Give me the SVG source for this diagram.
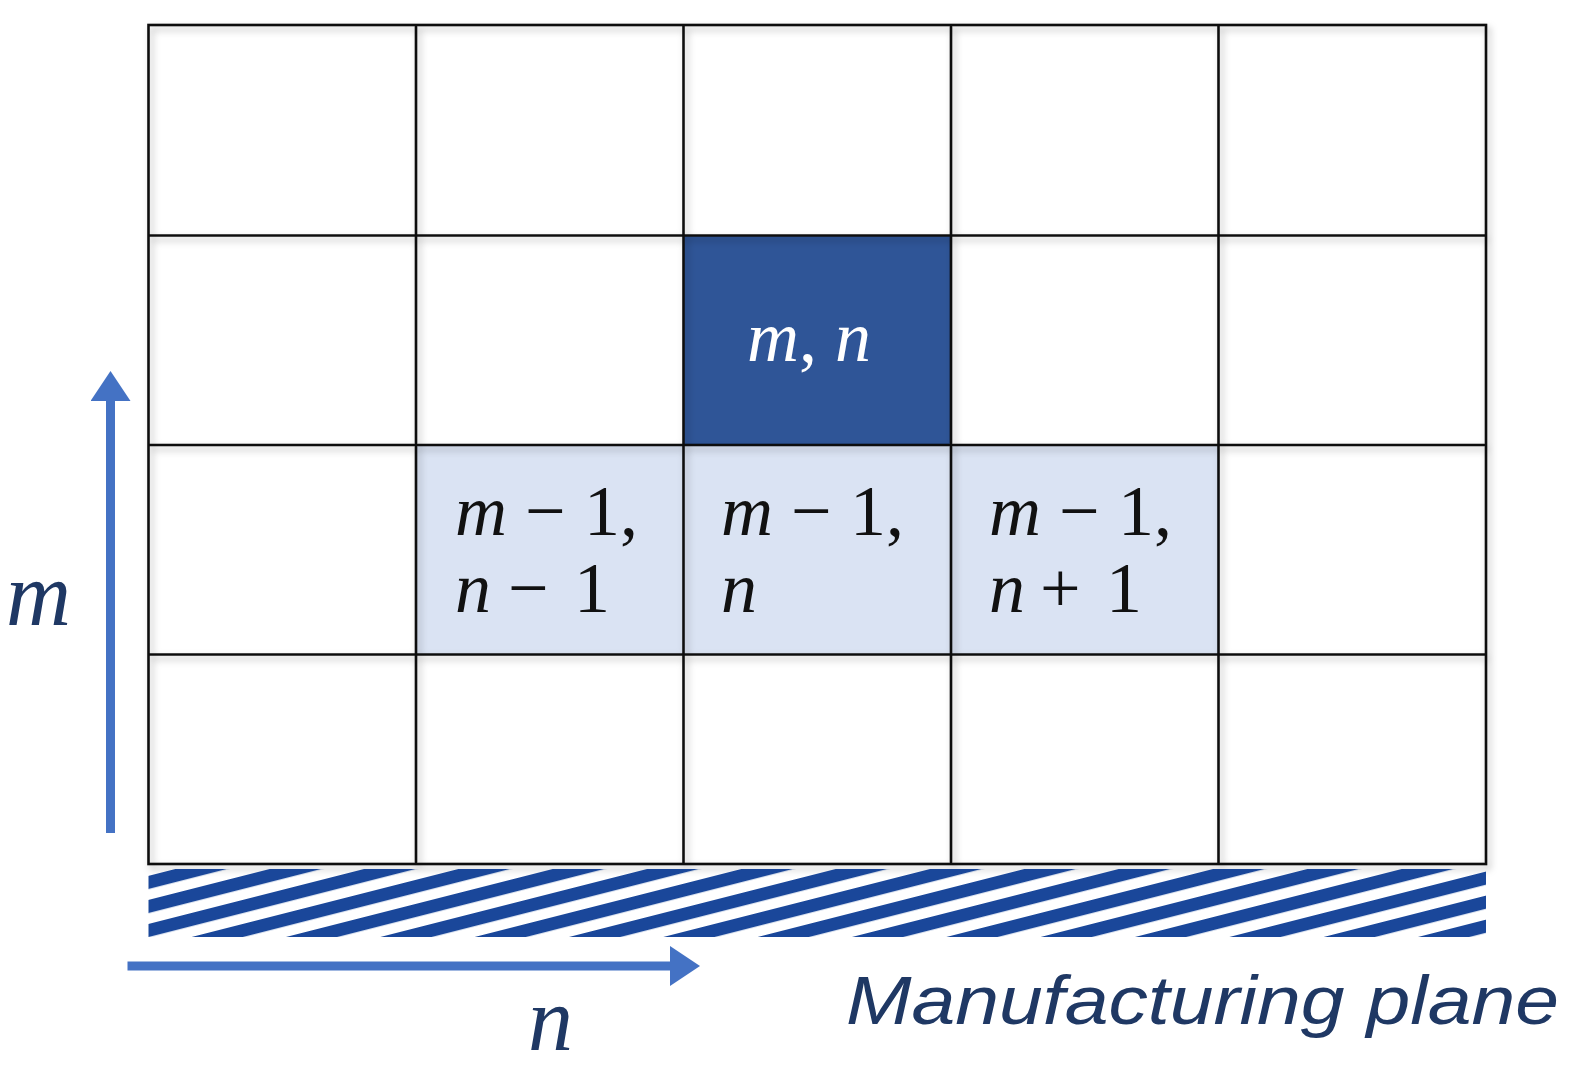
<svg xmlns="http://www.w3.org/2000/svg" width="1574" height="1067" viewBox="0 0 1574 1067">
<style>
.grid{fill:none;stroke:#111;stroke-width:2.6}
.math{font-family:"Liberation Serif","DejaVu Serif",serif;font-size:72px;fill:#111}
.it{font-style:italic}
.axis{font-family:"Liberation Serif","DejaVu Serif",serif;font-style:italic;font-size:90px;fill:#1F3864}
.arrow{stroke:#4472C4;stroke-width:9;fill:none}
</style>
<defs>
<pattern id="hatch" patternUnits="userSpaceOnUse" width="20" height="23.3" patternTransform="rotate(-14.3)">
<rect x="0" y="0" width="20" height="12.8" fill="#1A479A"/>
</pattern>
<marker id="head" markerUnits="userSpaceOnUse" viewBox="0 0 30 40" refX="0" refY="20" markerWidth="30" markerHeight="40" orient="auto">
<path d="M0,0 L30,20 L0,40 Z" fill="#4472C4"/>
</marker>
<filter id="shadow" x="-5%" y="-5%" width="110%" height="110%">
<feDropShadow dx="3" dy="4" stdDeviation="3.5" flood-color="#000" flood-opacity="0.28"/>
</filter>
</defs>
<g id="cells">
<rect id="cell-mn" x="683.5" y="235.5" width="267.5" height="209.5" fill="#2F5597"/>
<rect id="cell-m1n1" x="416" y="445" width="267.5" height="209.5" fill="#DAE3F3"/>
<rect id="cell-m1n" x="683.5" y="445" width="267.5" height="209.5" fill="#DAE3F3"/>
<rect id="cell-m1np1" x="951" y="445" width="267.5" height="209.5" fill="#DAE3F3"/>
</g>
<g id="grid" class="grid" filter="url(#shadow)">
<rect x="148.5" y="25" width="1337.5" height="839"/>
<line x1="416" y1="25" x2="416" y2="864"/>
<line x1="683.5" y1="25" x2="683.5" y2="864"/>
<line x1="951" y1="25" x2="951" y2="864"/>
<line x1="1218.5" y1="25" x2="1218.5" y2="864"/>
<line x1="148.5" y1="235.5" x2="1486" y2="235.5"/>
<line x1="148.5" y1="445" x2="1486" y2="445"/>
<line x1="148.5" y1="654.5" x2="1486" y2="654.5"/>
</g>
<g id="labels">
<text class="math" x="809" y="361" text-anchor="middle" style="fill:#fff"><tspan class="it">m</tspan>, <tspan class="it">n</tspan></text>
<text class="math" y="535"><tspan class="it" x="455">m</tspan><tspan x="525">−</tspan><tspan x="584">1,</tspan></text>
<text class="math" y="612"><tspan class="it" x="455">n</tspan><tspan x="508">−</tspan><tspan x="574">1</tspan></text>
<text class="math" y="535"><tspan class="it" x="721">m</tspan><tspan x="791">−</tspan><tspan x="850">1,</tspan></text>
<text class="math" y="612"><tspan class="it" x="721">n</tspan></text>
<text class="math" y="535"><tspan class="it" x="989">m</tspan><tspan x="1059">−</tspan><tspan x="1118">1,</tspan></text>
<text class="math" y="612"><tspan class="it" x="989">n</tspan><tspan x="1040">+</tspan><tspan x="1106">1</tspan></text>
</g>
<g id="manufacturing-plane">
<rect x="148.5" y="869" width="1337.5" height="68" fill="url(#hatch)"/>
<text x="846" y="1024" textLength="713" lengthAdjust="spacingAndGlyphs" style="font-family:'Liberation Sans','DejaVu Sans',sans-serif;font-style:italic;font-size:68px;fill:#1F3864">Manufacturing plane</text>
</g>
<g id="connectors">
<line class="arrow" x1="127.5" y1="966" x2="670" y2="966" marker-end="url(#head)"/>
<line class="arrow" x1="110.5" y1="833" x2="110.5" y2="401" marker-end="url(#head)"/>
</g>
<g id="axis-labels">
<text class="axis" x="6" y="625">m</text>
<text class="axis" x="528" y="1050">n</text>
</g>
</svg>
